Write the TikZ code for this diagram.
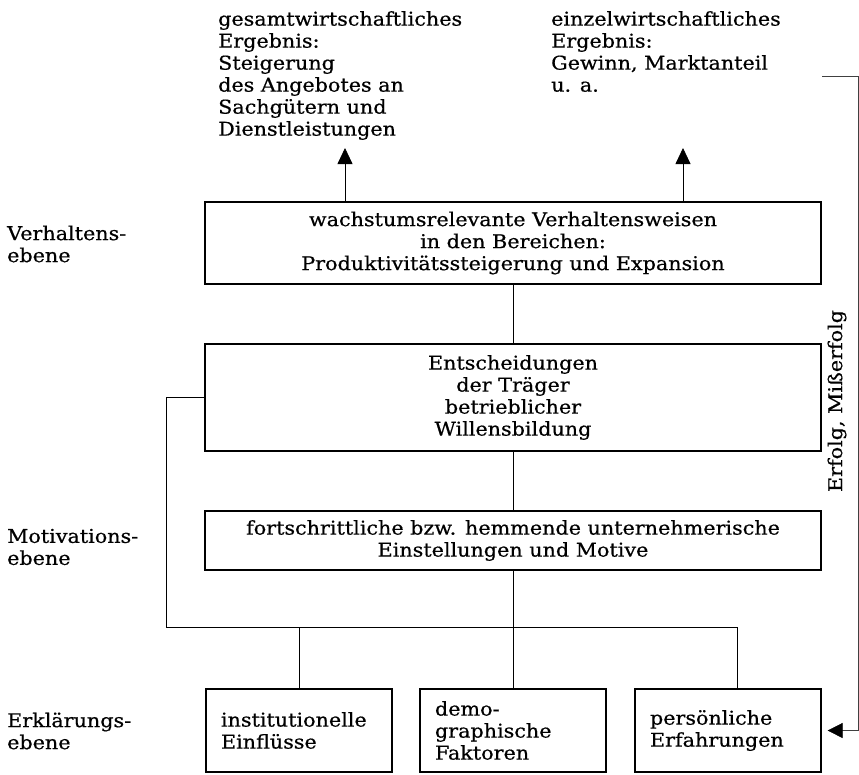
\documentclass[tikz,border=0pt]{standalone}
\usepackage{fontspec}
\setmainfont{DejaVu Serif}[FakeStretch=1.09,FakeBold=0.6]
\usetikzlibrary{arrows.meta}

\tikzset{
    box/.style={draw, line width=1.2pt, inner sep=0pt, align=center, minimum width=616pt},
    cause/.style={draw, line width=1.2pt, inner xsep=15pt, inner ysep=0pt, align=left, text width=156pt, minimum height=83pt},
    level/.style={anchor=west, align=left, inner sep=0pt},
    result/.style={anchor=north west, align=left, inner sep=0pt},
    link/.style={line width=0.8pt},
    pfeil/.style={line width=0.8pt, -{Triangle[length=16pt,width=15pt]}},
    rueck/.style={line width=0.6pt, black!75, -{Triangle[length=15pt,width=15pt,color=black]}}
}

\begin{document}
\begin{tikzpicture}[x=1pt, y=-1pt, font=\fontsize{19}{22}\selectfont]
    \useasboundingbox (0,0) rectangle (859,774);
    %draw level names
    \node[level] (vebene) at (7,244) {Verhaltens-\\ebene};
    \node[level] (mebene) at (7,547) {Motivations-\\ebene};
    \node[level] (eebene) at (7,731) {Erklärungs-\\ebene};
    %draw results
    \node[result] (gesamt) at (218,11) {gesamtwirtschaftliches\\Ergebnis:\\Steigerung\\des Angebotes an\\Sachgütern und\\Dienstleistungen};
    \node[result] (einzel) at (551,11) {einzelwirtschaftliches\\Ergebnis:\\Gewinn, Marktanteil\\u. a.};
    %draw main boxes
    \node[box, minimum height=82pt] (verhalten) at (513,243) {wachstumsrelevante Verhaltensweisen\\in den Bereichen:\\Produktivitätssteigerung und Expansion};
    \node[box, minimum height=107pt] (entscheidung) at (513,397.5) {Entscheidungen\\der Träger\\betrieblicher\\Willensbildung};
    \node[box, minimum height=59pt] (motive) at (513,540.5) {fortschrittliche bzw. hemmende unternehmerische\\Einstellungen und Motive};
    %draw causes
    \node[cause] (institution) at (299,730.5) {institutionelle\\Einflüsse};
    \node[cause] (demographie) at (513,730.5) {demo-\\graphische\\Faktoren};
    \node[cause] (erfahrung) at (728,730.5) {persönliche\\Erfahrungen};
    \node[rotate=90] (erfolg) at (837,401) {Erfolg, Mißerfolg};
    %draw connectors
    \coordinate (links) at (166,627);
    \coordinate (rechts) at (737,627);
    \draw[link] (verhalten) -- (entscheidung);
    \draw[link] (entscheidung) -- (motive);
    \draw[link] (motive) -- (demographie);
    \draw[link] (entscheidung.west) -- (entscheidung.west -| links) -- (links) -- (rechts) -- (rechts |- erfahrung.north);
    \draw[link] (institution.north |- links) -- (institution.north);
    %draw arrows
    \coordinate (gspitze) at (345,148);
    \coordinate (espitze) at (683,148);
    \draw[pfeil] (gspitze |- verhalten.north) -- (gspitze);
    \draw[pfeil] (espitze |- verhalten.north) -- (espitze);
    \coordinate (oben) at (822,76);
    \coordinate (ecke) at (858,76);
    \draw[rueck] (oben) -- (ecke) -- (ecke |- erfahrung.east) -- ([xshift=6pt]erfahrung.east);
\end{tikzpicture}
\end{document}
